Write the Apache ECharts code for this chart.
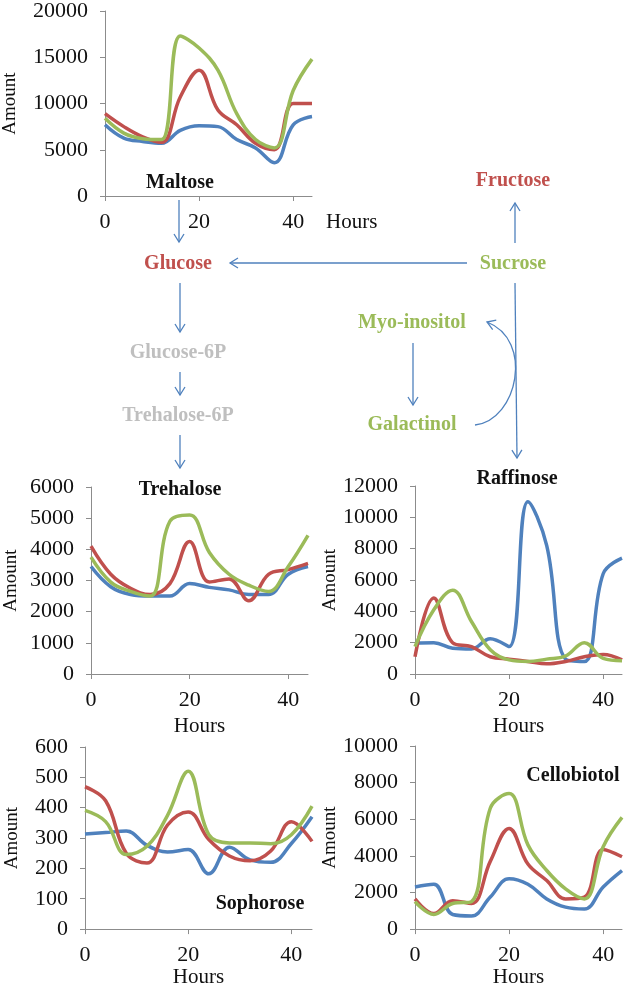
<!DOCTYPE html>
<html>
<head>
<meta charset="utf-8">
<script src="https://cdn.jsdelivr.net/npm/echarts@6/dist/echarts.min.js"></script>
<style>
  html, body { margin: 0; padding: 0; background: #ffffff; }
  #chart { width: 630px; height: 989px; }
</style>
</head>
<body>
<div id="chart"></div>
<script>
// ---- data ----
const hours = [0, 4, 8, 12, 16, 20, 24, 28, 32, 36, 40, 44];
const xTicks = [0, 20, 40];

const maltoseBlue  = [7700, 6250, 5900, 5700, 7100, 7600, 7500, 6100, 5200, 3600, 7700, 8600];
const maltoseRed   = [8900, 7500, 6400, 5800, 10700, 13600, 9300, 7700, 5700, 5000, 10000, 10000];
const maltoseGreen = [8400, 6800, 6200, 6100, 17300, 16000, 13600, 8900, 6100, 5200, 11400, 14800];

const trehaloseBlue  = [3450, 2800, 2550, 2500, 2500, 2900, 2780, 2700, 2550, 2550, 3200, 3450];
const trehaloseRed   = [4100, 3200, 2750, 2550, 2900, 4250, 2950, 3050, 2350, 3200, 3350, 3550];
const trehaloseGreen = [3750, 2950, 2650, 2500, 4900, 5100, 3900, 3200, 2850, 2650, 3450, 4450];

const raffinoseBlue  = [1970, 2000, 1650, 1600, 2250, 1750, 11000, 8200, 950, 800, 6400, 7400];
const raffinoseRed   = [1100, 4850, 2000, 1750, 1100, 950, 800, 650, 800, 1100, 1250, 900];
const raffinoseGreen = [1750, 4100, 5350, 3350, 1550, 900, 800, 950, 1150, 2000, 1000, 850];

const sophoroseBlue  = [313, 318, 323, 276, 254, 262, 182, 270, 228, 220, 282, 370];
const sophoroseRed   = [469, 423, 250, 218, 343, 386, 295, 241, 225, 257, 354, 289];
const sophoroseGreen = [391, 354, 246, 273, 375, 520, 311, 284, 284, 281, 311, 405];

const cellobiotolBlue  = [2300, 2450, 800, 720, 1750, 2750, 2450, 1650, 1200, 1100, 2300, 3200];
const cellobiotolRed   = [1650, 850, 1550, 1400, 3700, 5500, 3550, 2650, 1650, 1750, 4350, 3950];
const cellobiotolGreen = [1500, 800, 1400, 1500, 6600, 7400, 4600, 3200, 2200, 1650, 4500, 6100];

const panelNames = ['Maltose', 'Trehalose', 'Raffinose', 'Sophorose', 'Cellobiotol'];
const yMax = [20000, 6000, 12000, 600, 10000];
const yStep = [5000, 1000, 2000, 100, 2000];

// ---- styles ----
const SERIF = '"Liberation Serif", "Times New Roman", serif';
const BLUE = '#4F81BD', RED = '#C0504D', GREEN = '#9BBB59', GREY = '#BFBFBF';
const AXIS = '#8c8c8c';

const panels = [
  { name: panelNames[0], blue: maltoseBlue, red: maltoseRed, green: maltoseGreen,
    grid: { left: 105, top: 10, width: 207, height: 186 }, yGap: 85, hoursEnd: true,
    title: [180, 184] },
  { name: panelNames[1], blue: trehaloseBlue, red: trehaloseRed, green: trehaloseGreen,
    grid: { left: 91, top: 487, width: 217, height: 187 }, yGap: 70, xGap: 42,
    title: [180, 491] },
  { name: panelNames[2], blue: raffinoseBlue, red: raffinoseRed, green: raffinoseGreen,
    grid: { left: 415, top: 486, width: 207, height: 188 }, yGap: 70, xGap: 42,
    title: [517, 480] },
  { name: panelNames[3], blue: sophoroseBlue, red: sophoroseRed, green: sophoroseGreen,
    grid: { left: 85, top: 747, width: 227, height: 186 }, yGap: 63, xGap: 37,
    title: [260, 905] },
  { name: panelNames[4], blue: cellobiotolBlue, red: cellobiotolRed, green: cellobiotolGreen,
    grid: { left: 415, top: 746, width: 207, height: 187 }, yGap: 70, xGap: 37,
    title: [573, 777] }
];

const grids = [], xAxes = [], yAxes = [], series = [], titles = [];
panels.forEach((p, i) => {
  grids.push(Object.assign({ containLabel: false }, p.grid));
  const xName = p.hoursEnd
    ? { name: 'Hours', nameLocation: 'end', nameGap: 14,
        nameTextStyle: { fontFamily: SERIF, fontSize: 21, color: '#111', verticalAlign: 'top', lineHeight: 52 } }
    : { name: 'Hours', nameLocation: 'middle', nameGap: p.xGap,
        nameTextStyle: { fontFamily: SERIF, fontSize: 21, color: '#111' } };
  xAxes.push(Object.assign({
    gridIndex: i, type: 'value', min: 0, max: 44, interval: 20,
    axisLine: { show: true, onZero: false, lineStyle: { color: AXIS, width: 1 } },
    axisTick: { show: true, length: 5, customValues: xTicks, lineStyle: { color: AXIS } },
    axisLabel: { customValues: xTicks, fontFamily: SERIF, fontSize: 22, color: '#111', margin: 15 },
    splitLine: { show: false }
  }, xName));
  yAxes.push({
    gridIndex: i, type: 'value', min: 0, max: yMax[i], interval: yStep[i],
    name: 'Amount', nameLocation: 'middle', nameGap: p.yGap, nameRotate: 90,
    nameTextStyle: { fontFamily: SERIF, fontSize: 19, color: '#111' },
    axisLine: { show: true, lineStyle: { color: AXIS, width: 1 } },
    axisTick: { show: true, length: 5, lineStyle: { color: AXIS } },
    axisLabel: { fontFamily: SERIF, fontSize: 22, color: '#111', margin: 17,
                 formatter: v => String(v) },
    splitLine: { show: false }
  });
  [[p.blue, BLUE], [p.red, RED], [p.green, GREEN]].forEach(([vals, col]) => {
    series.push({
      type: 'line', xAxisIndex: i, yAxisIndex: i, smooth: 0.4, symbol: 'none',
      data: hours.map((h, k) => [h, vals[k]]),
      lineStyle: { color: col, width: 3.5 }, itemStyle: { color: col },
      silent: true, animation: false
    });
  });
  titles.push({
    text: p.name, left: p.title[0], top: p.title[1] - 11, textAlign: 'center', padding: 0,
    textStyle: { fontFamily: SERIF, fontSize: 20, fontWeight: 'bold', color: '#111' }
  });
});

// ---- pathway diagram (annotations) ----
const pathwayLabels = [
  { text: 'Fructose', x: 513, y: 181, color: RED },
  { text: 'Sucrose', x: 513, y: 264, color: GREEN },
  { text: 'Glucose', x: 178, y: 264, color: RED },
  { text: 'Glucose-6P', x: 178, y: 353, color: GREY },
  { text: 'Trehalose-6P', x: 178, y: 416, color: GREY },
  { text: 'Myo-inositol', x: 412, y: 323, color: GREEN },
  { text: 'Galactinol', x: 412, y: 425, color: GREEN }
];
const arrows = [
  [179, 200, 179, 242],
  [467, 263, 230, 263],
  [180, 283, 180, 332],
  [180, 372, 180, 395],
  [180, 435, 180, 468],
  [515, 243, 515, 203],
  [515, 283, 517, 458],
  [413, 343, 413, 405]
];

function head(tx, ty, dx, dy) {
  const len = Math.hypot(dx, dy), ux = dx / len, uy = dy / len;
  const L = 8, W = 5;
  return {
    type: 'polyline', silent: true,
    shape: { points: [[tx - ux * L + uy * W, ty - uy * L - ux * W], [tx, ty], [tx - ux * L - uy * W, ty - uy * L + ux * W]] },
    style: { stroke: BLUE, lineWidth: 1.3, fill: null }
  };
}

const graphics = [];
arrows.forEach(([x1, y1, x2, y2]) => {
  graphics.push({ type: 'line', silent: true, shape: { x1, y1, x2, y2 }, style: { stroke: BLUE, lineWidth: 1.3 } });
  graphics.push(head(x2, y2, x2 - x1, y2 - y1));
});
const curve = { x1: 475, y1: 425, cpx1: 518, cpy1: 420, cpx2: 534, cpy2: 340, x2: 487, y2: 322 };
graphics.push({ type: 'bezierCurve', silent: true, shape: curve, style: { stroke: BLUE, lineWidth: 1.3, fill: null } });
graphics.push(head(curve.x2, curve.y2, curve.x2 - curve.cpx2, curve.y2 - curve.cpy2));
pathwayLabels.forEach(l => {
  graphics.push({
    type: 'text', silent: true, x: l.x, y: l.y,
    style: { text: l.text, fill: l.color, font: 'bold 20px ' + SERIF,
             align: 'center', verticalAlign: 'middle', textAlign: 'center', textVerticalAlign: 'middle' }
  });
});

const chart = echarts.init(document.getElementById('chart'), null, { renderer: 'canvas' });
chart.setOption({
  animation: false,
  backgroundColor: '#ffffff',
  title: titles,
  grid: grids,
  xAxis: xAxes,
  yAxis: yAxes,
  series: series,
  graphic: { elements: graphics }
});
</script>
</body>
</html>
